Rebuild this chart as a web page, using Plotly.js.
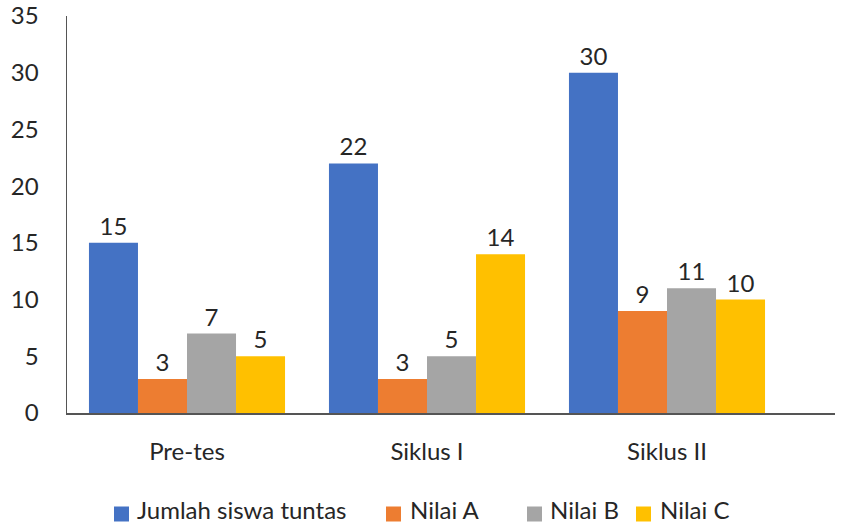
<!DOCTYPE html>
<html>
<head>
<meta charset="utf-8">
<script src="https://cdn.plot.ly/plotly-3.0.1.min.js"></script>
<style>html,body{margin:0;padding:0;background:#fff;}#chart{width:842px;height:526px;}</style>
</head>
<body>
<div id="chart"></div>
<script>
const categories = ["Pre-tes", "Siklus I", "Siklus II"];
const seriesNames = ["Jumlah siswa tuntas", "Nilai A", "Nilai B", "Nilai C"];
const jumlahTuntas = [15, 22, 30];
const nilaiA = [3, 3, 9];
const nilaiB = [7, 5, 11];
const nilaiC = [5, 14, 10];
const yTicks = [0, 5, 10, 15, 20, 25, 30, 35];

const colors = ["#4472C4", "#ED7D31", "#A5A5A5", "#FFC000"];
const values = [jumlahTuntas, nilaiA, nilaiB, nilaiC];
const fontFam = "Lato, 'Open Sans', sans-serif";
const txtColor = "#262626";
const FS = 24;

const traces = values.map((v, i) => ({
  type: "bar",
  name: seriesNames[i],
  x: categories,
  y: v,
  text: v.map(String),
  textposition: "outside",
  textfont: {family: fontFam, size: FS, color: txtColor},
  cliponaxis: false,
  marker: {color: colors[i], line: {width: 0}},
  showlegend: false,
  hoverinfo: "none"
}));

// margins / plot box in pixels
const M = {l: 67, r: 7, t: 16, b: 113};
const W = 842, H = 526;
const pw = W - M.l - M.r, ph = H - M.t - M.b;
const px2x = p => (p - M.l) / pw;
const py2y = p => (H - M.b - p) / ph;

// manual legend (layout positions)
const legSquareX = [114, 386, 527, 636];
const legTextX = [135, 408, 548, 658];
const legSq = 15, legSqMidY = 514, legTextMidY = 510;
const shapes = seriesNames.map((n, i) => ({
  type: "rect", xref: "paper", yref: "paper",
  x0: px2x(legSquareX[i]), x1: px2x(legSquareX[i] + legSq),
  y0: py2y(legSqMidY - legSq / 2), y1: py2y(legSqMidY + legSq / 2),
  fillcolor: colors[i], line: {width: 0}
}));
const annotations = seriesNames.map((n, i) => ({
  xref: "paper", yref: "paper",
  x: px2x(legTextX[i]), y: py2y(legTextMidY),
  xanchor: "left", yanchor: "middle",
  text: n, showarrow: false,
  font: {family: fontFam, size: FS, color: txtColor}
}));

const layout = {
  width: W, height: H,
  margin: M,
  paper_bgcolor: "#fff", plot_bgcolor: "#fff",
  barmode: "group",
  bargap: 0.183,
  bargroupgap: 0,
  font: {family: fontFam, size: FS, color: txtColor},
  showlegend: false,
  shapes: shapes,
  annotations: annotations,
  xaxis: {
    type: "category",
    range: [-0.5, 2.7],
    showline: true, linecolor: "#555", linewidth: 1.5,
    ticks: "", showgrid: false, zeroline: false,
    tickfont: {family: fontFam, size: FS, color: txtColor},
    ticklabelstandoff: 17,
    automargin: false
  },
  yaxis: {
    range: [0, 35],
    tickvals: yTicks,
    ticktext: yTicks.map(String),
    showline: true, linecolor: "#555", linewidth: 1.5,
    ticks: "", showgrid: false, zeroline: false,
    tickfont: {family: fontFam, size: FS, color: txtColor},
    ticklabelstandoff: 22,
    automargin: false
  }
};

Plotly.newPlot("chart", traces, layout, {staticPlot: true});
</script>
</body>
</html>
